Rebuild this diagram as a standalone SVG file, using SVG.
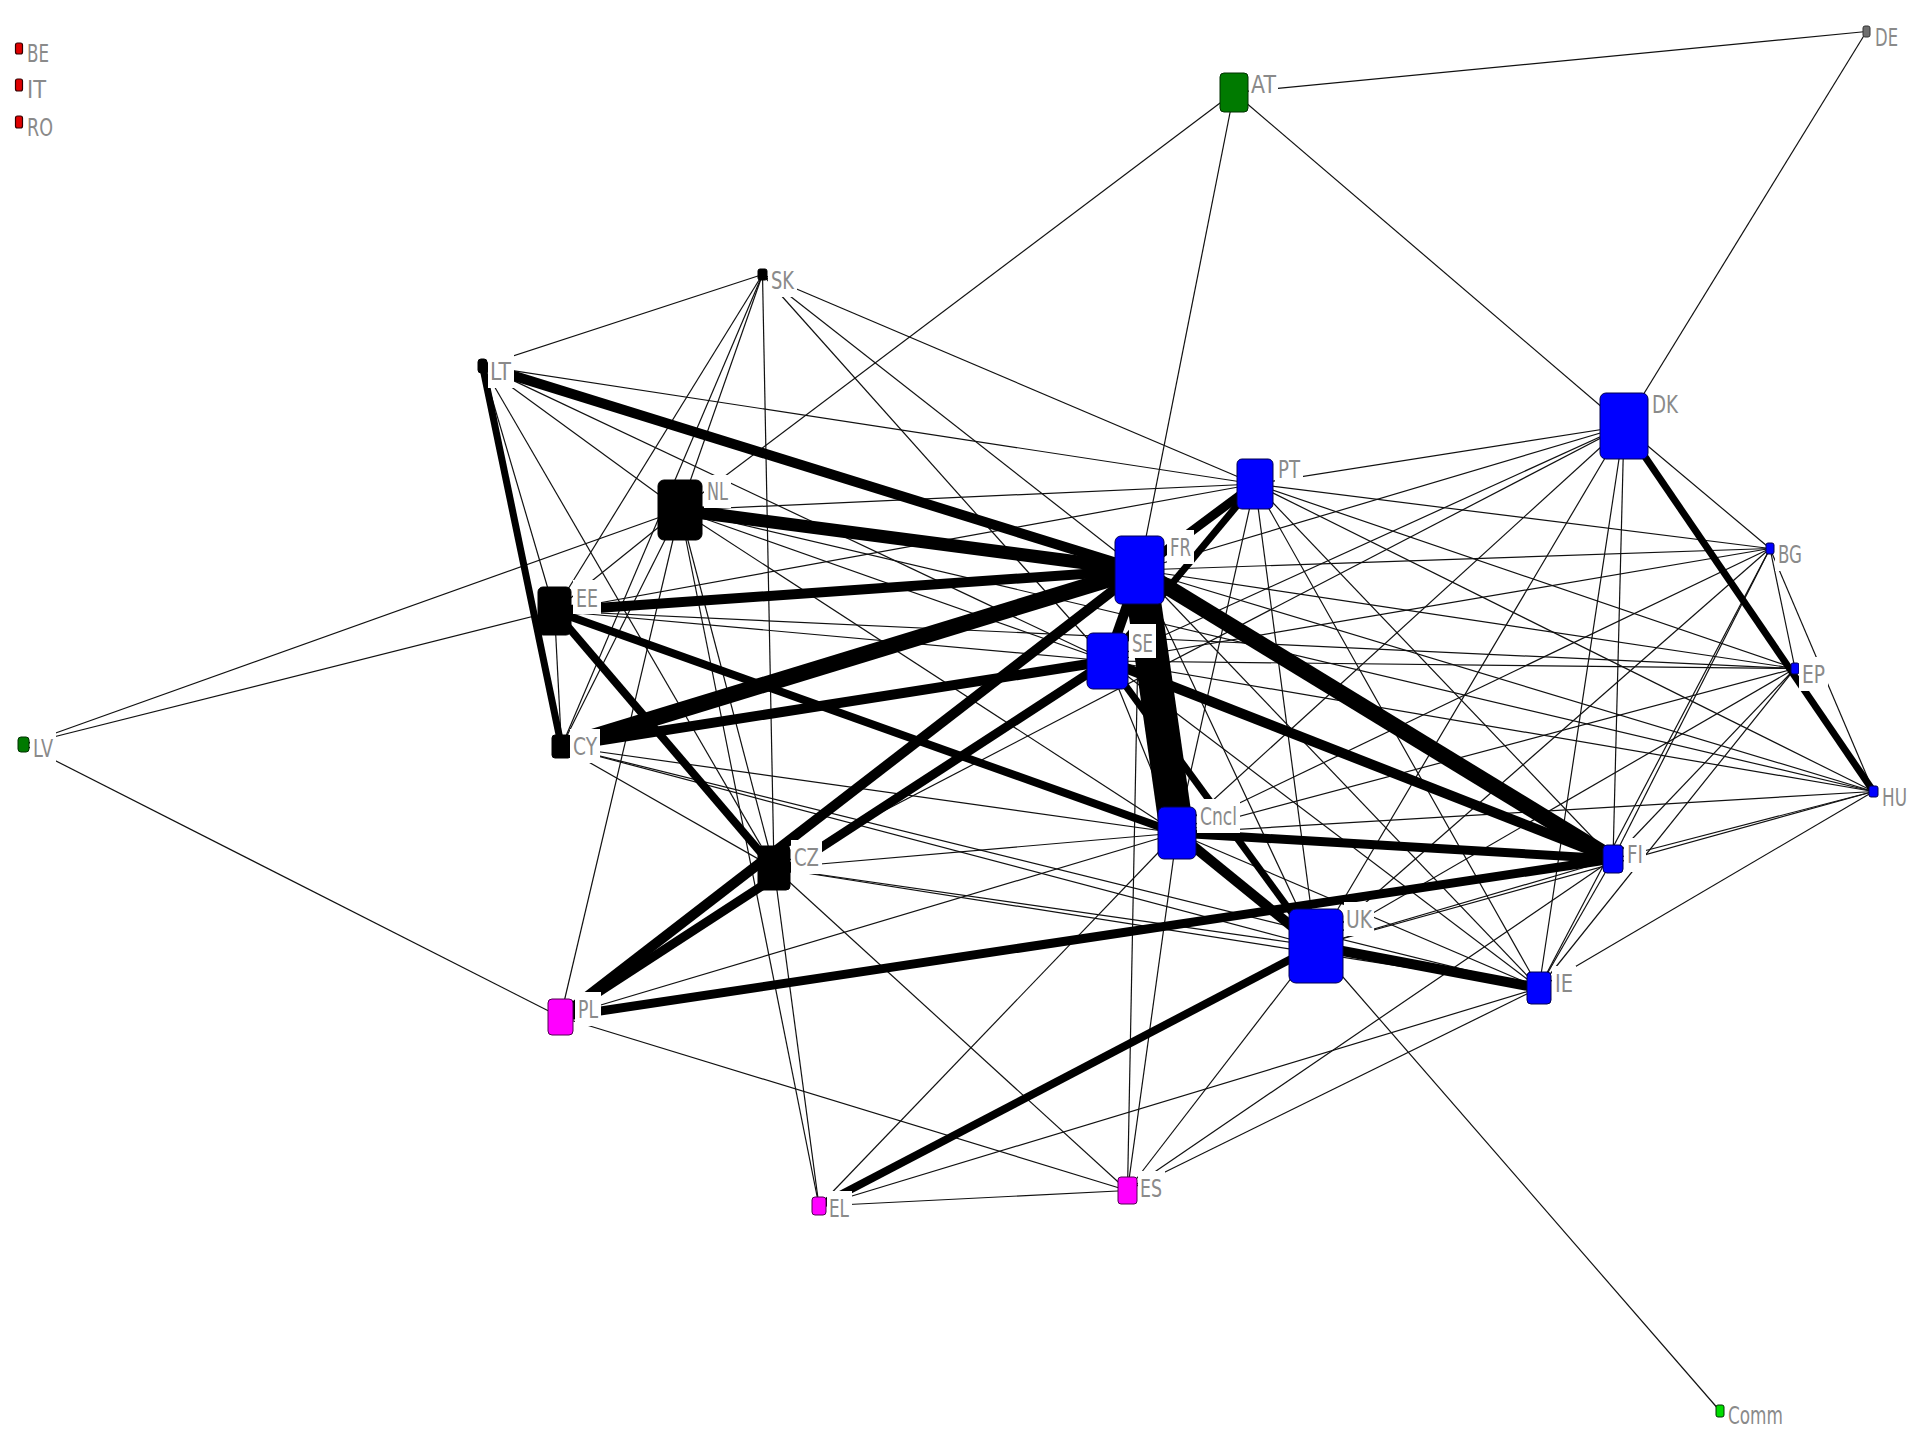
<svg xmlns="http://www.w3.org/2000/svg" width="1920" height="1440" viewBox="0 0 1920 1440">
<style>
.e{stroke:#111;stroke-width:1.2;fill:none}
.k{stroke:#000;fill:none}
.nb{fill:#0000ff;stroke:#000050;stroke-width:1}
.nk{fill:#000;stroke:#000;stroke-width:1}
.nm{fill:#ff00ff;stroke:#500050;stroke-width:1}
.ng{fill:#007a00;stroke:#003000;stroke-width:1}
.nr{fill:#e00000;stroke:#300;stroke-width:1.2}
.lb{fill:#fff}
.t{font-family:"DejaVu Sans","Liberation Sans",sans-serif;font-size:25px;fill:#8a8a8a}
</style>
<rect width="1920" height="1440" fill="#fff"/>
<g id="connectors">
<line class="e" x1="1234" y1="92.5" x2="1866.5" y2="31.5"/>
<line class="e" x1="1234" y1="92.5" x2="1624" y2="426"/>
<line class="e" x1="1234" y1="92.5" x2="680" y2="510"/>
<line class="e" x1="1234" y1="92.5" x2="1139.5" y2="570"/>
<line class="e" x1="1866.5" y1="31.5" x2="1624" y2="426"/>
<line class="e" x1="1720" y1="1411" x2="1316" y2="946"/>
<line class="e" x1="23.5" y1="744.5" x2="680" y2="510"/>
<line class="e" x1="23.5" y1="744.5" x2="554.5" y2="611"/>
<line class="e" x1="23.5" y1="744.5" x2="560.5" y2="1017"/>
<line class="e" x1="762.5" y1="274.5" x2="482.5" y2="366"/>
<line class="e" x1="762.5" y1="274.5" x2="554.5" y2="611"/>
<line class="e" x1="762.5" y1="274.5" x2="561.5" y2="746.5"/>
<line class="e" x1="762.5" y1="274.5" x2="680" y2="510"/>
<line class="e" x1="762.5" y1="274.5" x2="774" y2="868"/>
<line class="e" x1="762.5" y1="274.5" x2="1107.5" y2="661"/>
<line class="e" x1="762.5" y1="274.5" x2="1139.5" y2="570"/>
<line class="e" x1="762.5" y1="274.5" x2="1255" y2="484"/>
<line class="e" x1="482.5" y1="366" x2="1255" y2="484"/>
<line class="e" x1="482.5" y1="366" x2="1107.5" y2="661"/>
<line class="e" x1="482.5" y1="366" x2="680" y2="510"/>
<line class="e" x1="482.5" y1="366" x2="554.5" y2="611"/>
<line class="e" x1="482.5" y1="366" x2="774" y2="868"/>
<line class="e" x1="680" y1="510" x2="1255" y2="484"/>
<line class="e" x1="680" y1="510" x2="554.5" y2="611"/>
<line class="e" x1="680" y1="510" x2="561.5" y2="746.5"/>
<line class="e" x1="680" y1="510" x2="560.5" y2="1017"/>
<line class="e" x1="680" y1="510" x2="774" y2="868"/>
<line class="e" x1="680" y1="510" x2="819" y2="1206"/>
<line class="e" x1="680" y1="510" x2="1107.5" y2="661"/>
<line class="e" x1="680" y1="510" x2="1873.5" y2="791.5"/>
<line class="e" x1="680" y1="510" x2="1177" y2="833"/>
<line class="e" x1="554.5" y1="611" x2="561.5" y2="746.5"/>
<line class="e" x1="554.5" y1="611" x2="1107.5" y2="661"/>
<line class="e" x1="554.5" y1="611" x2="1795" y2="668.5"/>
<line class="e" x1="554.5" y1="611" x2="1255" y2="484"/>
<line class="e" x1="561.5" y1="746.5" x2="774" y2="868"/>
<line class="e" x1="561.5" y1="746.5" x2="1177" y2="833"/>
<line class="e" x1="561.5" y1="746.5" x2="1316" y2="946"/>
<line class="e" x1="561.5" y1="746.5" x2="1539" y2="988"/>
<line class="e" x1="774" y1="868" x2="819" y2="1206"/>
<line class="e" x1="774" y1="868" x2="1127.5" y2="1190.5"/>
<line class="e" x1="774" y1="868" x2="1316" y2="946"/>
<line class="e" x1="774" y1="868" x2="1539" y2="988"/>
<line class="e" x1="774" y1="868" x2="1177" y2="833"/>
<line class="e" x1="774" y1="868" x2="1624" y2="426"/>
<line class="e" x1="560.5" y1="1017" x2="1127.5" y2="1190.5"/>
<line class="e" x1="560.5" y1="1017" x2="1177" y2="833"/>
<line class="e" x1="819" y1="1206" x2="1127.5" y2="1190.5"/>
<line class="e" x1="819" y1="1206" x2="1177" y2="833"/>
<line class="e" x1="819" y1="1206" x2="1539" y2="988"/>
<line class="e" x1="1127.5" y1="1190.5" x2="1139.5" y2="570"/>
<line class="e" x1="1127.5" y1="1190.5" x2="1177" y2="833"/>
<line class="e" x1="1127.5" y1="1190.5" x2="1316" y2="946"/>
<line class="e" x1="1127.5" y1="1190.5" x2="1539" y2="988"/>
<line class="e" x1="1127.5" y1="1190.5" x2="1613" y2="859"/>
<line class="e" x1="1139.5" y1="570" x2="1624" y2="426"/>
<line class="e" x1="1139.5" y1="570" x2="1770" y2="548.5"/>
<line class="e" x1="1139.5" y1="570" x2="1795" y2="668.5"/>
<line class="e" x1="1139.5" y1="570" x2="1873.5" y2="791.5"/>
<line class="e" x1="1139.5" y1="570" x2="1316" y2="946"/>
<line class="e" x1="1139.5" y1="570" x2="1539" y2="988"/>
<line class="e" x1="1107.5" y1="661" x2="1177" y2="833"/>
<line class="e" x1="1107.5" y1="661" x2="1624" y2="426"/>
<line class="e" x1="1107.5" y1="661" x2="1770" y2="548.5"/>
<line class="e" x1="1107.5" y1="661" x2="1795" y2="668.5"/>
<line class="e" x1="1107.5" y1="661" x2="1873.5" y2="791.5"/>
<line class="e" x1="1107.5" y1="661" x2="1539" y2="988"/>
<line class="e" x1="1255" y1="484" x2="1624" y2="426"/>
<line class="e" x1="1255" y1="484" x2="1770" y2="548.5"/>
<line class="e" x1="1255" y1="484" x2="1795" y2="668.5"/>
<line class="e" x1="1255" y1="484" x2="1873.5" y2="791.5"/>
<line class="e" x1="1255" y1="484" x2="1613" y2="859"/>
<line class="e" x1="1255" y1="484" x2="1177" y2="833"/>
<line class="e" x1="1255" y1="484" x2="1316" y2="946"/>
<line class="e" x1="1255" y1="484" x2="1539" y2="988"/>
<line class="e" x1="1624" y1="426" x2="1177" y2="833"/>
<line class="e" x1="1624" y1="426" x2="1316" y2="946"/>
<line class="e" x1="1624" y1="426" x2="1539" y2="988"/>
<line class="e" x1="1624" y1="426" x2="1613" y2="859"/>
<line class="e" x1="1624" y1="426" x2="1770" y2="548.5"/>
<line class="e" x1="1770" y1="548.5" x2="1795" y2="668.5"/>
<line class="e" x1="1770" y1="548.5" x2="1873.5" y2="791.5"/>
<line class="e" x1="1770" y1="548.5" x2="1613" y2="859"/>
<line class="e" x1="1770" y1="548.5" x2="1539" y2="988"/>
<line class="e" x1="1770" y1="548.5" x2="1316" y2="946"/>
<line class="e" x1="1770" y1="548.5" x2="1177" y2="833"/>
<line class="e" x1="1795" y1="668.5" x2="1613" y2="859"/>
<line class="e" x1="1795" y1="668.5" x2="1539" y2="988"/>
<line class="e" x1="1795" y1="668.5" x2="1316" y2="946"/>
<line class="e" x1="1795" y1="668.5" x2="1177" y2="833"/>
<line class="e" x1="1873.5" y1="791.5" x2="1613" y2="859"/>
<line class="e" x1="1873.5" y1="791.5" x2="1539" y2="988"/>
<line class="e" x1="1873.5" y1="791.5" x2="1316" y2="946"/>
<line class="e" x1="1873.5" y1="791.5" x2="1177" y2="833"/>
<line class="e" x1="1613" y1="859" x2="1316" y2="946"/>
<line class="e" x1="1613" y1="859" x2="1539" y2="988"/>
<line class="e" x1="1177" y1="833" x2="1539" y2="988"/>
<line class="k" stroke-width="10" x1="482.5" y1="366" x2="1139.5" y2="570"/>
<line class="k" stroke-width="7" x1="482.5" y1="366" x2="561.5" y2="746.5"/>
<line class="k" stroke-width="13" x1="680" y1="510" x2="1139.5" y2="570"/>
<line class="k" stroke-width="10" x1="554.5" y1="611" x2="1139.5" y2="570"/>
<line class="k" stroke-width="8" x1="554.5" y1="611" x2="1177" y2="833"/>
<line class="k" stroke-width="8" x1="554.5" y1="611" x2="774" y2="868"/>
<line class="k" stroke-width="16" x1="561.5" y1="746.5" x2="1139.5" y2="570"/>
<line class="k" stroke-width="10" x1="561.5" y1="746.5" x2="1107.5" y2="661"/>
<line class="k" stroke-width="10" x1="560.5" y1="1017" x2="1139.5" y2="570"/>
<line class="k" stroke-width="9" x1="560.5" y1="1017" x2="1107.5" y2="661"/>
<line class="k" stroke-width="10" x1="1139.5" y1="570" x2="1107.5" y2="661"/>
<line class="k" stroke-width="9" x1="1139.5" y1="570" x2="1255" y2="484"/>
<line class="k" stroke-width="7" x1="1107.5" y1="661" x2="1255" y2="484"/>
<line class="k" stroke-width="34" x1="1139.5" y1="570" x2="1177" y2="833"/>
<line class="k" stroke-width="16" x1="1139.5" y1="570" x2="1613" y2="859"/>
<line class="k" stroke-width="10" x1="1107.5" y1="661" x2="1613" y2="859"/>
<line class="k" stroke-width="7" x1="1107.5" y1="661" x2="1316" y2="946"/>
<line class="k" stroke-width="9" x1="1177" y1="833" x2="1613" y2="859"/>
<line class="k" stroke-width="10" x1="1177" y1="833" x2="1316" y2="946"/>
<line class="k" stroke-width="9" x1="560.5" y1="1017" x2="1613" y2="859"/>
<line class="k" stroke-width="10" x1="1316" y1="946" x2="1539" y2="988"/>
<line class="k" stroke-width="8" x1="1316" y1="946" x2="819" y2="1206"/>
<line class="k" stroke-width="7" x1="1624" y1="426" x2="1873.5" y2="791.5"/>
</g>
<g id="BE"><rect class="nr" x="15.5" y="43" width="7" height="11" rx="2"/><rect class="lb" x="24" y="35" width="28" height="34"/><text class="t" x="27" y="62" textLength="22" lengthAdjust="spacingAndGlyphs">BE</text></g>
<g id="IT"><rect class="nr" x="15.5" y="79" width="7" height="12" rx="2"/><rect class="lb" x="24" y="72" width="25" height="34"/><text class="t" x="27" y="98" textLength="19" lengthAdjust="spacingAndGlyphs">IT</text></g>
<g id="RO"><rect class="nr" x="15.5" y="116" width="7" height="12" rx="2"/><rect class="lb" x="24" y="109" width="32" height="34"/><text class="t" x="27" y="136" textLength="26" lengthAdjust="spacingAndGlyphs">RO</text></g>
<g id="DE"><rect x="1863" y="26" width="7" height="11" rx="2" fill="#6e6e6e" stroke="#333"/><rect class="lb" x="1872" y="19" width="29" height="34"/><text class="t" x="1875" y="46" textLength="23" lengthAdjust="spacingAndGlyphs">DE</text></g>
<g id="AT"><rect class="ng" x="1220" y="73" width="28" height="39" rx="4"/><rect class="lb" x="1249" y="67" width="29" height="34"/><text class="t" x="1251" y="93" textLength="25" lengthAdjust="spacingAndGlyphs">AT</text></g>
<g id="SK"><rect class="nk" x="758" y="269" width="9" height="11" rx="2"/><rect class="lb" x="768" y="263" width="29" height="34"/><text class="t" x="771" y="289" textLength="23" lengthAdjust="spacingAndGlyphs">SK</text></g>
<g id="LT"><rect class="nk" x="478" y="359" width="9" height="14" rx="3"/><rect class="lb" x="488" y="354" width="26" height="34"/><text class="t" x="490" y="380" textLength="21" lengthAdjust="spacingAndGlyphs">LT</text></g>
<g id="NL"><rect class="nk" x="658" y="480" width="44" height="60" rx="6"/><rect class="lb" x="704" y="475" width="27" height="33"/><text class="t" x="707" y="500" textLength="21" lengthAdjust="spacingAndGlyphs">NL</text></g>
<g id="PT"><rect class="nb" x="1237" y="459" width="36" height="50" rx="5"/><rect class="lb" x="1275" y="452" width="28" height="34"/><text class="t" x="1278" y="478" textLength="22" lengthAdjust="spacingAndGlyphs">PT</text></g>
<g id="DK"><rect class="nb" x="1600" y="393" width="48" height="66" rx="6"/><rect class="lb" x="1649" y="387" width="32" height="34"/><text class="t" x="1652" y="413" textLength="26" lengthAdjust="spacingAndGlyphs">DK</text></g>
<g id="BG"><rect class="nb" x="1766" y="543" width="8" height="11" rx="2"/><rect class="lb" x="1775" y="537" width="30" height="34"/><text class="t" x="1778" y="563" textLength="24" lengthAdjust="spacingAndGlyphs">BG</text></g>
<g id="EP"><rect class="nb" x="1791" y="663" width="8" height="11" rx="2"/><rect class="lb" x="1799" y="657" width="29" height="34"/><text class="t" x="1802" y="683" textLength="23" lengthAdjust="spacingAndGlyphs">EP</text></g>
<g id="HU"><rect class="nb" x="1869" y="786" width="9" height="11" rx="2"/><rect class="lb" x="1879" y="780" width="31" height="34"/><text class="t" x="1882" y="806" textLength="25" lengthAdjust="spacingAndGlyphs">HU</text></g>
<g id="EE"><rect class="nk" x="538" y="587" width="33" height="48" rx="5"/><rect class="lb" x="573" y="580" width="28" height="34"/><text class="t" x="576" y="607" textLength="22" lengthAdjust="spacingAndGlyphs">EE</text></g>
<g id="LV"><rect class="ng" x="18" y="737" width="11" height="15" rx="3"/><rect class="lb" x="30" y="730" width="26" height="34"/><text class="t" x="33" y="757" textLength="20" lengthAdjust="spacingAndGlyphs">LV</text></g>
<g id="CY"><rect class="nk" x="552" y="735" width="19" height="23" rx="3"/><rect class="lb" x="570" y="729" width="30" height="34"/><text class="t" x="573" y="755" textLength="24" lengthAdjust="spacingAndGlyphs">CY</text></g>
<g id="SE"><rect class="nb" x="1087" y="633" width="41" height="56" rx="6"/></g>
<g id="FR"><rect class="nb" x="1115" y="536" width="49" height="68" rx="6"/><rect class="lb" x="1167" y="530" width="27" height="34"/><text class="t" x="1170" y="556" textLength="21" lengthAdjust="spacingAndGlyphs">FR</text></g>
<g id="SE-label"><rect class="lb" x="1129" y="624" width="27" height="34"/><text class="t" x="1132" y="652" textLength="21" lengthAdjust="spacingAndGlyphs">SE</text></g>
<g id="Cncl"><rect class="nb" x="1158" y="807" width="38" height="52" rx="6"/><rect class="lb" x="1197" y="799" width="43" height="34"/><text class="t" x="1200" y="825" textLength="37" lengthAdjust="spacingAndGlyphs">Cncl</text></g>
<g id="FI"><rect class="nb" x="1603" y="845" width="20" height="28" rx="4"/><rect class="lb" x="1624" y="838" width="22" height="34"/><text class="t" x="1627" y="863" textLength="16" lengthAdjust="spacingAndGlyphs">FI</text></g>
<g id="CZ"><rect class="nk" x="758" y="846" width="32" height="44" rx="4"/><rect class="lb" x="791" y="840" width="31" height="34"/><text class="t" x="794" y="866" textLength="25" lengthAdjust="spacingAndGlyphs">CZ</text></g>
<g id="UK"><rect class="nb" x="1289" y="909" width="54" height="74" rx="7"/><rect class="lb" x="1344" y="902" width="30" height="34"/><text class="t" x="1346" y="928" textLength="26" lengthAdjust="spacingAndGlyphs">UK</text></g>
<g id="IE"><rect class="nb" x="1527" y="972" width="24" height="32" rx="4"/><rect class="lb" x="1552" y="966" width="24" height="34"/><text class="t" x="1555" y="992" textLength="18" lengthAdjust="spacingAndGlyphs">IE</text></g>
<g id="PL"><rect class="nm" x="548" y="999" width="25" height="36" rx="4"/><rect class="lb" x="575" y="992" width="26" height="34"/><text class="t" x="578" y="1018" textLength="20" lengthAdjust="spacingAndGlyphs">PL</text></g>
<g id="ES"><rect class="nm" x="1118" y="1177" width="19" height="27" rx="3"/><rect class="lb" x="1138" y="1171" width="27" height="34"/><text class="t" x="1140" y="1197" textLength="22" lengthAdjust="spacingAndGlyphs">ES</text></g>
<g id="EL"><rect class="nm" x="812" y="1197" width="14" height="18" rx="3"/><rect class="lb" x="827" y="1191" width="25" height="34"/><text class="t" x="829" y="1217" textLength="20" lengthAdjust="spacingAndGlyphs">EL</text></g>
<g id="Comm"><rect x="1716" y="1405" width="8" height="12" rx="2" fill="#00dd00" stroke="#003300"/><rect class="lb" x="1725" y="1399" width="61" height="33"/><text class="t" x="1728" y="1424" textLength="55" lengthAdjust="spacingAndGlyphs">Comm</text></g>
</svg>
